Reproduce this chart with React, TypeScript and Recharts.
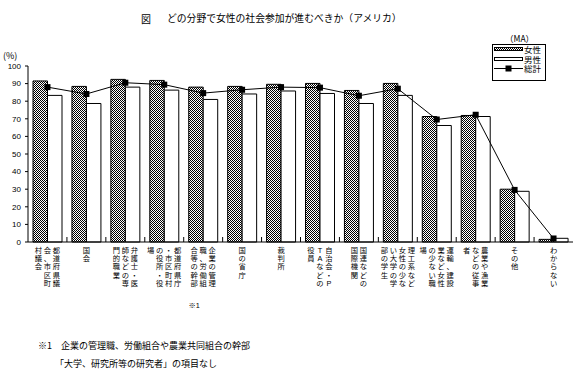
import { ComposedChart, Bar, Line, XAxis, YAxis } from "recharts";

// 回答項目（縦書きラベルは5文字ごとに折り返し、右の列から読む）
const categories = [
  "都道府県議会、市区町村議会",
  "国会",
  "弁護士・医師などの専門的職業",
  "都道府県庁・市区町村の役所・役場",
  "企業の管理職、労働組合等の幹部",
  "国の省庁",
  "裁判所",
  "自治会・PTAなどの役員",
  "国連などの国際機関",
  "理工系など女性の少ない大学の学部の学生",
  "運輸、建設業など女性の少ない職場",
  "農業や漁業などの従事者",
  "その他",
  "わからない",
];
const notes = ["", "", "", "", "※1", "", "", "", "", "", "", "", "", ""];

const women = [91.5, 88.4, 92.4, 91.8, 88.0, 88.4, 89.6, 90.1, 86.1, 90.1, 71.3, 71.9, 30.0, 1.5];
const men = [83.3, 78.7, 88.0, 86.3, 81.0, 84.1, 85.8, 84.4, 78.7, 83.3, 66.2, 71.3, 28.8, 2.1];
const total = [88.0, 84.1, 90.5, 89.4, 84.6, 86.5, 88.0, 87.7, 83.1, 87.1, 69.6, 72.3, 29.6, 2.0];

const yTicks = [0, 10, 20, 30, 40, 50, 60, 70, 80, 90, 100];

const data = categories.map((c, i) => ({
  name: c,
  女性: women[i],
  男性: men[i],
  総計: total[i],
}));

const W = 575;
const H = 369;
const PLOT_LEFT = 28;
const PLOT_RIGHT = 573;
const PLOT_TOP = 66;
const PLOT_BOTTOM = 242;
const BAND = (PLOT_RIGHT - PLOT_LEFT) / categories.length;

const CJK = '"Noto Sans CJK JP", "Noto Sans", sans-serif';
// Latin font first keeps line boxes tight; kanji fall back to Noto CJK
const TIGHT = '"Liberation Sans", "Noto Sans CJK JP", sans-serif';

function VerticalTick(props: any) {
  const { x, payload, index } = props;
  const chars = Array.from(String(payload.value));
  const cols: string[][] = [];
  for (let i = 0; i < chars.length; i += 5) cols.push(chars.slice(i, i + 5));
  const colGap = 9;
  const rowGap = 8.4;
  const n = cols.length;
  const rightX = x + ((n - 1) * colGap) / 2;
  const note = notes[index] || "";
  const boundary = x - BAND / 2;
  return (
    <g>
      {index > 0 && (
        <line x1={boundary} x2={boundary} y1={PLOT_BOTTOM} y2={PLOT_BOTTOM - 5} stroke="#000" strokeWidth={1} />
      )}
      {cols.map((col, ci) =>
        col.map((ch, ri) => (
          <text
            key={`${ci}-${ri}`}
            x={rightX - ci * colGap}
            y={PLOT_BOTTOM + 8 + ri * rowGap}
            textAnchor="middle"
            dominantBaseline="central"
            fontSize={7.3}
            fontFamily={TIGHT}
            fill="#000"
          >
            {ch}
          </text>
        ))
      )}
      {note && (
        <text
          x={rightX - (n - 1) * colGap}
          y={PLOT_BOTTOM + 63}
          textAnchor="middle"
          dominantBaseline="central"
          fontSize={7.3}
          fontFamily={TIGHT}
          fill="#000"
        >
          {note}
        </text>
      )}
    </g>
  );
}

function SquareDot(props: any) {
  const { cx, cy, index } = props;
  return <rect key={`dot-${index}`} x={cx - 3} y={cy - 3} width={6} height={6} fill="#000" />;
}

export default function App() {
  return (
    <div style={{ position: "absolute", left: 0, top: 0, width: W, height: H, background: "#fff" }}>
      <ComposedChart
        width={W}
        height={H}
        data={data}
        margin={{ top: PLOT_TOP, right: W - PLOT_RIGHT, bottom: 67, left: 0 }}
        barGap={0}
      >
        <defs>
          <pattern id="hatch" width={2} height={2} patternUnits="userSpaceOnUse">
            <rect x={0} y={0} width={2} height={2} fill="#fff" />
            <rect x={0} y={0} width={1} height={1} fill="#000" />
            <rect x={1} y={1} width={1} height={1} fill="#000" />
          </pattern>
        </defs>
        <XAxis
          dataKey="name"
          interval={0}
          height={60}
          tickLine={false}
          tickSize={0}
          tickMargin={0}
          axisLine={{ stroke: "#000" }}
          tick={<VerticalTick />}
        />
        <YAxis
          width={PLOT_LEFT}
          domain={[0, 100]}
          ticks={yTicks}
          interval={0}
          tickSize={3}
          tickMargin={4}
          axisLine={{ stroke: "#000" }}
          tickLine={{ stroke: "#000" }}
          tick={{ fontSize: 8, fill: "#000", fontFamily: '"Liberation Sans", sans-serif' }}
        />
        <Bar dataKey="女性" fill="url(#hatch)" stroke="#000" strokeWidth={1} barSize={14.5} isAnimationActive={false} />
        <Bar dataKey="男性" fill="#fff" stroke="#000" strokeWidth={1} barSize={14.5} isAnimationActive={false} />
        <Line
          type="linear"
          dataKey="総計"
          stroke="#000"
          strokeWidth={1}
          dot={<SquareDot />}
          activeDot={false}
          isAnimationActive={false}
        />
      </ComposedChart>

      <svg
        width={W}
        height={H}
        style={{ position: "absolute", left: 0, top: 0, pointerEvents: "none" }}
        fontFamily={CJK}
      >
        <defs>
          <pattern id="hatch2" width={2} height={2} patternUnits="userSpaceOnUse">
            <rect x={0} y={0} width={2} height={2} fill="#fff" />
            <rect x={0} y={0} width={1} height={1} fill="#000" />
            <rect x={1} y={1} width={1} height={1} fill="#000" />
          </pattern>
        </defs>
        {/* タイトル */}
        <text x={141} y={18} fontSize={10} dominantBaseline="central" fill="#000">図</text>
        <text x={167} y={18} fontSize={9.8} dominantBaseline="central" fill="#000">
          どの分野で女性の社会参加が進むべきか（アメリカ）
        </text>
        <text x={505} y={38} fontSize={8.5} dominantBaseline="central" fill="#000">（MA）</text>
        <text x={3} y={55} fontSize={9} dominantBaseline="central" fill="#000">(%)</text>

        {/* 凡例 */}
        <rect x={492.5} y={44.5} width={53} height={36} fill="#fff" stroke="#000" />
        <rect x={494.5} y={47.5} width={28} height={3} fill="url(#hatch2)" stroke="#000" />
        <text x={524} y={53} fontSize={8.5} fontFamily={TIGHT} fill="#000">女性</text>
        <rect x={494.5} y={57.5} width={28} height={3} fill="#fff" stroke="#000" />
        <text x={524} y={62.5} fontSize={8.5} fontFamily={TIGHT} fill="#000">男性</text>
        <line x1={494} x2={523} y1={68.5} y2={68.5} stroke="#000" />
        <rect x={505.5} y={65.5} width={6} height={6} fill="#000" />
        <text x={524} y={72} fontSize={8.5} fontFamily={TIGHT} fill="#000">総計</text>

        {/* 注 */}
        <text x={38} y={345} fontSize={9} dominantBaseline="central" fill="#000">
          ※1　企業の管理職、労働組合や農業共同組合の幹部
        </text>
        <text x={55} y={363} fontSize={9} dominantBaseline="central" fill="#000">
          「大学、研究所等の研究者」の項目なし
        </text>
      </svg>
    </div>
  );
}
